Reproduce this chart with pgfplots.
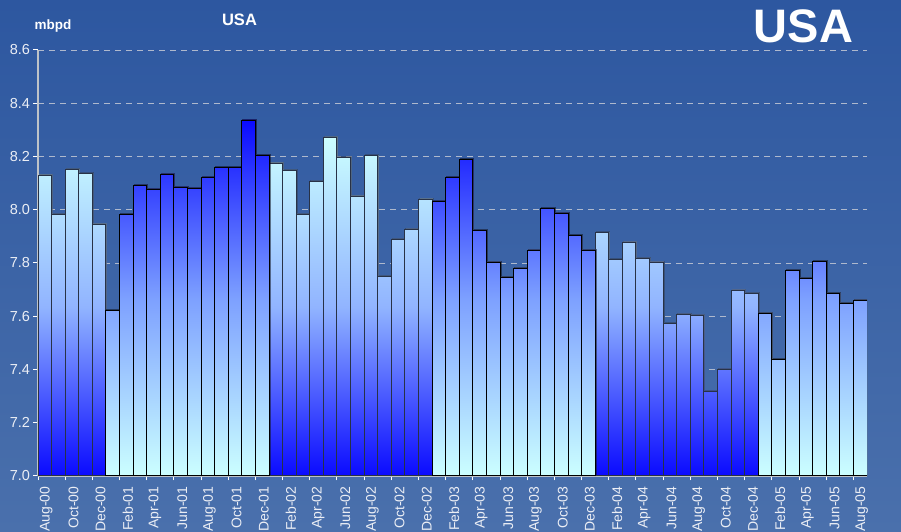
\documentclass[border=0pt]{standalone}
\usepackage{fontspec}
\setmainfont{Liberation Sans}
\usepackage{pgfplots}
\usepackage{pgfplotstable}
\pgfplotsset{compat=1.18}
\usetikzlibrary{shadows}
\definecolor{bgtop}{RGB}{45,87,160}
\definecolor{bgbot}{RGB}{74,112,172}
\definecolor{cyanl}{RGB}{204,255,255}
\definecolor{midl}{RGB}{145,180,255}
\definecolor{deepb}{RGB}{10,10,255}
\definecolor{midb}{RGB}{125,160,255}
\definecolor{gridc}{RGB}{175,185,205}
\definecolor{axc}{RGB}{190,195,200}
\definecolor{labc}{RGB}{235,238,245}
\definecolor{edgel}{RGB}{40,50,70}

\pgfplotstableread{
x y
0 8.130
1 7.982
2 8.151
3 8.135
4 7.946
17 8.175
18 8.147
19 7.982
20 8.106
21 8.272
22 8.195
23 8.051
24 8.202
25 7.749
26 7.888
27 7.926
28 8.040
41 7.913
42 7.812
43 7.878
44 7.816
45 7.803
46 7.571
47 7.607
48 7.603
49 7.318
50 7.400
51 7.698
52 7.685
}\lightdata

\pgfplotstableread{
x y
5 7.620
6 7.982
7 8.092
8 8.077
9 8.134
10 8.085
11 8.081
12 8.122
13 8.157
14 8.157
15 8.337
16 8.203
29 8.032
30 8.122
31 8.187
32 7.922
33 7.803
34 7.746
35 7.781
36 7.848
37 8.004
38 7.987
39 7.902
40 7.848
53 7.612
54 7.437
55 7.771
56 7.742
57 7.805
58 7.685
59 7.648
60 7.661
}\bluedata

\begin{document}
\begin{tikzpicture}[x=1pt,y=1pt]
\shade[top color=bgtop,bottom color=bgbot] (0,0) rectangle (901,532);
\begin{axis}[
  at={(38pt,56pt)}, anchor=south west,
  scale only axis, width=829pt, height=426pt,
  xmin=-0.5, xmax=60.5, ymin=0, ymax=1.6,
  y filter/.expression={y-7},
  axis x line*=bottom, axis y line*=left,
  x axis line style={-, draw=axc, line width=2pt},
  y axis line style={-, draw=axc, line width=1.3pt},
  tick align=outside,
  major tick length=4.5pt,
  every tick/.style={draw=white, line width=1pt},
  ytick={0,0.2,0.4,0.6,0.8,1.0,1.2,1.4,1.6},
  yticklabels={7.0,7.2,7.4,7.6,7.8,8.0,8.2,8.4,8.6},
  yticklabel style={font=\fontsize{14.5}{16}\selectfont},
  xtick={-0.5,1.5,...,59.5},
  xticklabels={},
  extra x ticks={0,2,...,60},
  extra x tick labels={Aug-00,Oct-00,Dec-00,Feb-01,Apr-01,Jun-01,Aug-01,Oct-01,Dec-01,Feb-02,Apr-02,Jun-02,Aug-02,Oct-02,Dec-02,Feb-03,Apr-03,Jun-03,Aug-03,Oct-03,Dec-03,Feb-04,Apr-04,Jun-04,Aug-04,Oct-04,Dec-04,Feb-05,Apr-05,Jun-05,Aug-05},
  extra x tick style={major tick length=0pt, tick label style={rotate=90, anchor=east, font=\fontsize{14}{16}\selectfont, xshift=-7pt, yshift=-1.5pt}},
  tick label style={text=labc},
  /pgf/number format/assume math mode=true,
  ymajorgrids,
  major grid style={draw=gridc, line width=0.9pt, dash pattern=on 6pt off 5pt},
  clip=true,
]
\addplot[ybar, bar width=1, bar shift=0pt, draw=edgel, line width=1pt,
  top color=cyanl, bottom color=deepb, middle color=midl,
  drop shadow={shadow xshift=1pt, shadow yshift=1pt, opacity=0.45}]
  table[x=x,y=y] {\lightdata};
\addplot[ybar, bar width=1, bar shift=0pt, draw=black, line width=1pt,
  top color=deepb, bottom color=cyanl, middle color=midb,
  drop shadow={shadow xshift=1pt, shadow yshift=1pt, opacity=0.45}]
  table[x=x,y=y] {\bluedata};
\end{axis}
\node[text=white, font=\bfseries\fontsize{13.5}{15}\selectfont] at (53,506) {mbpd};
\node[text=white, font=\bfseries\fontsize{16.5}{18}\selectfont] at (239.5,512.5) {USA};
\node[text=white, font=\bfseries\fontsize{47}{50}\selectfont] at (803.5,506) {USA};
\pgfresetboundingbox
\useasboundingbox (0,0) rectangle (901,532);
\end{tikzpicture}
\end{document}
